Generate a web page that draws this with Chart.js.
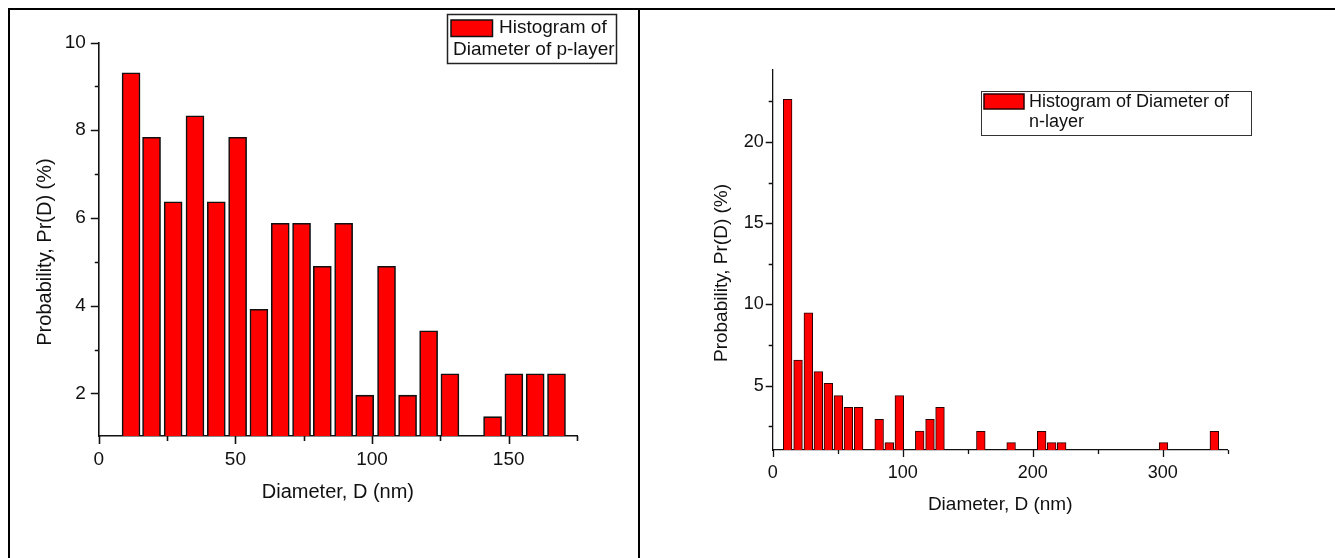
<!DOCTYPE html>
<html>
<head>
<meta charset="utf-8">
<title>Diameter histograms</title>
<script src="https://cdn.jsdelivr.net/npm/chart.js@4/dist/chart.umd.min.js"></script>
<style>
  html, body { margin: 0; padding: 0; background: #fff; }
  #page { position: relative; width: 1335px; height: 558px; overflow: hidden; background: #fff; }
  canvas { position: absolute; top: 0; }
  #pChart { left: 0; }
  #nChart { left: 640px; }
  .rule { position: absolute; background: #000; z-index: 2; }
</style>
</head>
<body>
<div id="page">
  <canvas id="pChart" width="637" height="558"></canvas>
  <canvas id="nChart" width="695" height="558"></canvas>
  <div class="rule" style="left:8px;top:8px;width:1327px;height:2px"></div>
  <div class="rule" style="left:8px;top:8px;width:2px;height:550px"></div>
  <div class="rule" style="left:638px;top:8px;width:2px;height:550px"></div>
</div>
<script>
// ---- p-layer: bin centres (nm) and probability (%) ----
const pDiameter = [11.8, 19.3, 27.2, 35.2, 43.0, 50.8, 58.6, 66.4, 74.2, 81.8,
                   89.6, 97.3, 105.3, 113.0, 120.7, 128.5, 144.1, 151.9, 159.7, 167.5];
const pProbability = [9.31, 7.84, 6.37, 8.33, 6.37, 7.84, 3.92, 5.88, 5.88, 4.90,
                      5.88, 1.96, 4.90, 1.96, 3.43, 2.45, 1.47, 2.45, 2.45, 2.45];
const pTicksX = [0, 50, 100, 150];
const pMinorX = [25, 75, 125, 175];
const pTicksY = [2, 4, 6, 8, 10];
const pMinorY = [3, 5, 7, 9];
const pLegend = ['Histogram of', 'Diameter of p-layer'];

// ---- n-layer: bin centres (nm) and probability (%) ----
const nDiameter = [11.5, 19.5, 27.4, 35.1, 42.8, 50.5, 58.2, 66.1, 81.9, 89.7, 97.4,
                   113.1, 121.0, 128.7, 160.1, 183.4, 206.9, 214.6, 222.3, 300.6, 339.7];
const nProbability = [22.63, 6.58, 9.49, 5.86, 5.15, 4.39, 3.67, 3.67, 2.93, 1.49, 4.39,
                      2.21, 2.93, 3.67, 2.19, 1.49, 2.19, 1.49, 1.49, 1.49, 2.19];
const nTicksX = [0, 100, 200, 300];
const nMinorX = [50, 150, 250, 350];
const nTicksY = [5, 10, 15, 20];
const nMinorY = [2.5, 7.5, 12.5, 17.5, 22.5];
const nLegend = ['Histogram of Diameter of', 'n-layer'];

const axisTitleX = 'Diameter, D (nm)';
const axisTitleY = 'Probability, Pr(D) (%)';
const FONT = '"Liberation Sans", Arial, Helvetica, sans-serif';
const INK = '#111';

// Outward tick marks (major and minor) on both axes, plus the rotated y title
const axisMarks = {
  id: 'axisMarks',
  afterDraw(chart, args, o) {
    const { ctx, chartArea: a, scales } = chart;
    ctx.save();
    ctx.strokeStyle = INK;
    ctx.lineWidth = o.width;
    ctx.beginPath();
    const xMark = (v, len) => {
      const px = Math.round(scales.x.getPixelForValue(v)) + 0.5;
      ctx.moveTo(px, a.bottom);
      ctx.lineTo(px, a.bottom + len);
    };
    const yMark = (v, len) => {
      const py = Math.round(scales.y.getPixelForValue(v)) + 0.5;
      ctx.moveTo(a.left - len, py);
      ctx.lineTo(a.left, py);
    };
    o.majorX.forEach(v => xMark(v, o.majorLenX));
    o.minorX.forEach(v => xMark(v, o.minorLenX));
    o.majorY.forEach(v => yMark(v, o.majorLenY));
    o.minorY.forEach(v => yMark(v, o.minorLenY));
    ctx.stroke();

    ctx.translate(o.yTitleAt[0], o.yTitleAt[1]);
    ctx.rotate(-Math.PI / 2);
    ctx.fillStyle = INK;
    ctx.font = o.yTitleSize + 'px ' + FONT;
    ctx.textAlign = 'center';
    ctx.textBaseline = 'middle';
    ctx.fillText(axisTitleY, 0, 0);
    ctx.restore();
  }
};

// Framed legend with a swatch and wrapped label text
const legendBox = {
  id: 'legendBox',
  afterDraw(chart, args, o) {
    const ctx = chart.ctx;
    const ds = chart.data.datasets[0];
    ctx.save();
    const [bx0, by0, bx1, by1] = o.box;
    ctx.fillStyle = '#fff';
    ctx.fillRect(bx0, by0, bx1 - bx0, by1 - by0);
    ctx.strokeStyle = o.frameColor;
    ctx.lineWidth = o.frameWidth;
    ctx.strokeRect(bx0, by0, bx1 - bx0, by1 - by0);
    const [sx0, sy0, sx1, sy1] = o.swatch;
    ctx.fillStyle = ds.backgroundColor;
    ctx.fillRect(sx0, sy0, sx1 - sx0, sy1 - sy0);
    ctx.strokeStyle = ds.borderColor;
    ctx.lineWidth = 1.5;
    ctx.strokeRect(sx0, sy0, sx1 - sx0, sy1 - sy0);
    ctx.fillStyle = INK;
    ctx.font = o.fontSize + 'px ' + FONT;
    ctx.textBaseline = 'middle';
    ctx.textAlign = 'left';
    o.lines.forEach((t, i) => ctx.fillText(t, o.textX[i], o.textY[i]));
    ctx.restore();
  }
};

function histogram(id, s) {
  const tickFont = { family: FONT, size: s.tickSize };
  const titleFont = { family: FONT, size: s.titleSize };
  return new Chart(document.getElementById(id), {
    type: 'bar',
    data: {
      datasets: [{
        label: s.legend.join(' '),
        data: s.xs.map((x, i) => ({ x: x, y: s.ys[i] })),
        backgroundColor: '#ff0000',
        borderColor: s.barEdge,
        borderWidth: s.barEdgeWidth,
        borderSkipped: 'start',
        barThickness: s.barWidth,
        base: s.yMin,
        clip: 0
      }]
    },
    options: {
      responsive: false,
      devicePixelRatio: 1,
      animation: false,
      events: [],
      layout: { padding: s.padding },
      plugins: {
        legend: { display: false },
        tooltip: { enabled: false },
        axisMarks: {
          majorX: s.ticksX, minorX: s.minorX, majorY: s.ticksY, minorY: s.minorY,
          majorLenX: s.tickLenX, minorLenX: s.minorLenX, majorLenY: s.tickLenY, minorLenY: s.minorLenY,
          width: s.axisWidth, yTitleAt: s.yTitleAt, yTitleSize: s.titleSize
        },
        legendBox: s.legendBox
      },
      scales: {
        x: {
          type: 'linear', min: 0, max: s.xMax, offset: false,
          afterBuildTicks: sc => { sc.ticks = s.ticksX.map(v => ({ value: v })); },
          afterFit: sc => { sc.height = s.xHeight; },
          grid: { display: true, drawOnChartArea: false, drawTicks: true, tickLength: s.tickLenX, tickColor: 'rgba(0,0,0,0)' },
          border: { display: true, color: INK, width: s.axisWidth },
          ticks: { padding: s.xTickPad, color: INK, font: tickFont, maxRotation: 0, autoSkip: false },
          title: { display: true, text: axisTitleX, color: INK, font: titleFont, padding: { top: 0, bottom: s.xTitlePad } }
        },
        y: {
          type: 'linear', min: s.yMin, max: s.yMax,
          afterBuildTicks: sc => { sc.ticks = s.ticksY.map(v => ({ value: v })); },
          afterFit: sc => { sc.width = s.yWidth; },
          grid: { display: true, drawOnChartArea: false, drawTicks: true, tickLength: s.tickLenY, tickColor: 'rgba(0,0,0,0)' },
          border: { display: true, color: INK, width: s.axisWidth },
          ticks: { padding: s.yTickPad, color: INK, font: tickFont, autoSkip: false },
          title: { display: false }
        }
      }
    },
    plugins: [axisMarks, legendBox]
  });
}

histogram('pChart', {
  xs: pDiameter, ys: pProbability, legend: pLegend,
  ticksX: pTicksX, minorX: pMinorX, ticksY: pTicksY, minorY: pMinorY,
  xMax: 175, yMin: 1.03, yMax: 10,
  padding: { left: 0, top: 42.5, right: 60, bottom: 0 },
  xHeight: 122, yWidth: 98.8,
  tickSize: 19, titleSize: 20,
  tickLenX: 8, tickLenY: 8, minorLenX: 5, minorLenY: 4,
  xTickPad: 4, yTickPad: 5, xTitlePad: 54, yTitleAt: [45, 252],
  axisWidth: 1.6, barWidth: 18, barEdge: '#111', barEdgeWidth: 1.6,
  legendBox: {
    box: [447.5, 14.5, 616.5, 63.5], swatch: [451, 20, 492.5, 36.5],
    lines: pLegend, textX: [499, 453], textY: [28, 50], fontSize: 19,
    frameColor: '#222', frameWidth: 1.5
  }
});

histogram('nChart', {
  xs: nDiameter, ys: nProbability, legend: nLegend,
  ticksX: nTicksX, minorX: nMinorX, ticksY: nTicksY, minorY: nMinorY,
  xMax: 350, yMin: 1.04, yMax: 24.43,
  padding: { left: 0, top: 70, right: 107.3, bottom: 0 },
  xHeight: 108, yWidth: 132.7,
  tickSize: 18, titleSize: 19,
  tickLenX: 7, tickLenY: 7, minorLenX: 4, minorLenY: 4,
  xTickPad: 5, yTickPad: 2, xTitlePad: 41.6, yTitleAt: [82, 273],
  axisWidth: 1.3, barWidth: 8.7, barEdge: '#2a0000', barEdgeWidth: 1,
  legendBox: {
    box: [341.5, 91.5, 611.5, 135.5], swatch: [344, 94, 384, 109],
    lines: nLegend, textX: [389, 389], textY: [101.7, 121.7], fontSize: 18,
    frameColor: '#333', frameWidth: 1
  }
});
</script>
</body>
</html>
